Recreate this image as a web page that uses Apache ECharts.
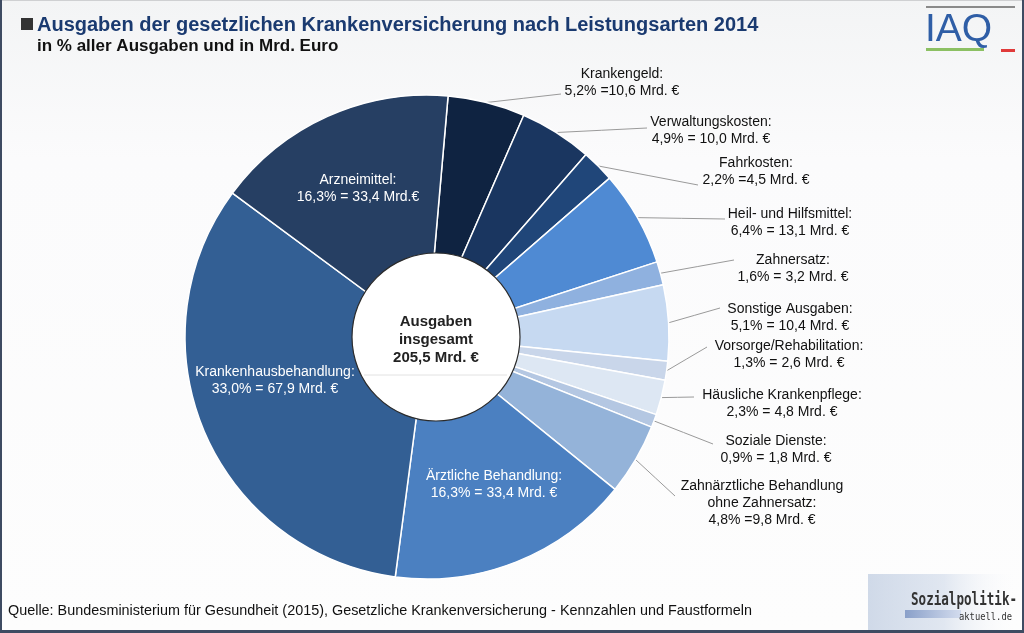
<!DOCTYPE html>
<html><head><meta charset="utf-8">
<script src="https://cdn.jsdelivr.net/npm/echarts@6/dist/echarts.min.js"></script>
<style>html,body{margin:0;padding:0;width:1024px;height:633px;overflow:hidden;background:#fff}#c{width:1024px;height:633px}</style>
</head><body><div id="c"></div>
<script>
// ---- data ----
const categories = ['Krankengeld', 'Verwaltungskosten', 'Fahrkosten', 'Heil- und Hilfsmittel', 'Zahnersatz',
  'Sonstige Ausgaben', 'Vorsorge/Rehabilitation', 'Häusliche Krankenpflege', 'Soziale Dienste',
  'Zahnärztliche Behandlung\nohne Zahnersatz', 'Ärztliche Behandlung', 'Krankenhausbehandlung', 'Arzneimittel'];
const valuesMrd = [10.6, 10.0, 4.5, 13.1, 3.2, 10.4, 2.6, 4.8, 1.8, 9.8, 33.4, 67.9, 33.4];
const percents = [5.2, 4.9, 2.2, 6.4, 1.6, 5.1, 1.3, 2.3, 0.9, 4.8, 16.3, 33.0, 16.3];
const labelFormats = ['{p}% ={v} Mrd. €', '{p}% = {v} Mrd. €', '{p}% ={v} Mrd. €', '{p}% = {v} Mrd. €',
  '{p}% = {v} Mrd. €', '{p}% = {v} Mrd. €', '{p}% = {v} Mrd. €', '{p}% = {v} Mrd. €', '{p}% = {v} Mrd. €',
  '{p}% ={v} Mrd. €', '{p}% = {v} Mrd. €', '{p}% = {v} Mrd. €', '{p}% = {v} Mrd.€'];
const insideLabels = [false, false, false, false, false, false, false, false, false, false, true, true, true];

// ---- styles / layout ----
const colors = ['#0f2341', '#1a3660', '#204679', '#4f8ad3', '#8fb1df', '#c6d9f1', '#c9d6ea', '#dde7f3',
  '#b4c7e2', '#94b3d9', '#4b80c1', '#335f94', '#263f63'];
// [textCenterX, textCenterY, lineEndX, lineEndY]
const labelBoxes = [[622, 83, 561, 94], [711, 131, 647, 128], [756, 172, 698, 185], [790, 223, 725, 219],
  [793, 269, 734, 260], [790, 318, 720, 308], [789, 355, 707, 347], [782, 404, 694, 397],
  [776, 450, 713, 444], [762, 503, 675, 496], [494, 485], [275, 381], [358, 189]];

const fmt = v => v.toFixed(1).replace('.', ',');
const total = valuesMrd.reduce((a, b) => a + b, 0);
const FONT = '"Liberation Sans", Arial, Helvetica, sans-serif';

const pieData = categories.map((name, i) => {
  const inside = insideLabels[i];
  return {
    name: name,
    value: valuesMrd[i],
    itemStyle: { color: colors[i] },
    label: inside ? { position: 'inside', color: '#fff', fontSize: 14, lineHeight: 17 }
                  : { position: 'outside', color: '#111', fontSize: 14, lineHeight: 17 },
    labelLine: { show: !inside }
  };
});

const chart = echarts.init(document.getElementById('c'), null, { renderer: 'canvas' });
chart.setOption({
  animation: false,
  textStyle: { fontFamily: FONT },
  graphic: [
    { type: 'rect', z: -100, shape: { x: 0, y: 0, width: 1024, height: 633 },
      style: { fill: new echarts.graphic.LinearGradient(0, 0, 0, 1, [{ offset: 0, color: '#f3f4f5' }, { offset: 0.25, color: '#fbfbfc' }, { offset: 1, color: '#fdfdfd' }]) } },
    { type: 'rect', z: 50, shape: { x: 0, y: 0, width: 1024, height: 1 }, style: { fill: '#cfd0d2' } },
    { type: 'rect', z: 50, shape: { x: 0, y: 0, width: 2, height: 633 }, style: { fill: '#3e4b62' } },
    { type: 'rect', z: 50, shape: { x: 1022, y: 0, width: 2, height: 633 }, style: { fill: '#3e4b62' } },
    { type: 'rect', z: 50, shape: { x: 0, y: 630, width: 1024, height: 3 }, style: { fill: '#3e4b62' } },
    // title
    { type: 'rect', z: 10, shape: { x: 21, y: 18, width: 12, height: 12 }, style: { fill: '#333' } },
    { type: 'text', z: 10, x: 37, y: 25, style: { text: 'Ausgaben der gesetzlichen Krankenversicherung nach Leistungsarten 2014',
      font: 'bold 20px ' + FONT, fill: '#1a3a70', textVerticalAlign: 'middle' } },
    { type: 'text', z: 10, x: 37, y: 46, style: { text: 'in % aller Ausgaben und in Mrd. Euro',
      font: 'bold 17px ' + FONT, fill: '#111', textVerticalAlign: 'middle' } },
    // IAQ logo
    { type: 'rect', z: 10, shape: { x: 926, y: 6, width: 89, height: 2 }, style: { fill: '#8a8a8a' } },
    { type: 'text', z: 10, x: 925, y: 30, style: { text: 'IAQ', font: '39px ' + FONT, fill: '#2f5ea6', textVerticalAlign: 'middle' } },
    { type: 'rect', z: 10, shape: { x: 926, y: 48, width: 58, height: 3 }, style: { fill: '#8cc063' } },
    { type: 'rect', z: 10, shape: { x: 1001, y: 49, width: 14, height: 3 }, style: { fill: '#e03a3a' } },
    // source
    { type: 'text', z: 10, x: 8, y: 611, style: { text: 'Quelle: Bundesministerium für Gesundheit (2015), Gesetzliche Krankenversicherung - Kennzahlen und Faustformeln',
      font: '14.4px ' + FONT, fill: '#111', textVerticalAlign: 'middle' } },
    // sozialpolitik-aktuell logo
    { type: 'rect', z: 10, shape: { x: 868, y: 574, width: 152, height: 56 },
      style: { fill: new echarts.graphic.LinearGradient(0, 0, 1, 0, [{ offset: 0, color: 'rgba(170,188,215,0.55)' }, { offset: 0.5, color: 'rgba(190,204,226,0.45)' }, { offset: 1, color: 'rgba(255,255,255,0)' }]) } },
    { type: 'rect', z: 11, shape: { x: 905, y: 610, width: 56, height: 8 },
      style: { fill: new echarts.graphic.LinearGradient(0, 0, 1, 0, [{ offset: 0, color: '#8aa0c9' }, { offset: 1, color: '#d3dcee' }]) } },
    { type: 'text', z: 12, x: 911, y: 601, scaleX: 0.74, style: { text: 'Sozialpolitik-', font: 'bold 17px "DejaVu Sans Mono", "Liberation Mono", monospace', fill: '#333', textVerticalAlign: 'middle' } },
    { type: 'text', z: 12, x: 959, y: 617, scaleX: 0.8, style: { text: 'aktuell.de', font: '11px "DejaVu Sans Mono", "Liberation Mono", monospace', fill: '#333', textVerticalAlign: 'middle' } },
    // faint line in centre circle
    { type: 'line', z: 20, shape: { x1: 364, y1: 375, x2: 507, y2: 375 }, style: { stroke: '#e2e2e2', lineWidth: 1 } }
  ],
  series: [
    {
      type: 'pie',
      z: 2,
      center: [427, 337],
      radius: [0, 242],
      startAngle: 85,
      clockwise: true,
      avoidLabelOverlap: false,
      silent: true,
      itemStyle: { borderColor: '#ffffff', borderWidth: 1.5 },
      label: {
        fontFamily: FONT,
        formatter: p => {
          const i = p.dataIndex;
          const line2 = labelFormats[i].replace('{p}', fmt(percents[i])).replace('{v}', fmt(valuesMrd[i]));
          return categories[i] + ':\n' + line2;
        },
        align: 'center'
      },
      labelLine: { smooth: false, length: 10, length2: 10, lineStyle: { color: '#9a9a9a', width: 1 } },
      labelLayout: function (params) {
        const b = labelBoxes[params.dataIndex];
        const out = { x: b[0], y: b[1], align: 'center', verticalAlign: 'middle' };
        if (b.length > 2 && params.labelLinePoints) {
          const p0 = params.labelLinePoints[0];
          out.labelLinePoints = [p0, [(p0[0] + b[2]) / 2, (p0[1] + b[3]) / 2], [b[2], b[3]]];
        }
        return out;
      },
      data: pieData
    },
    {
      type: 'pie',
      z: 4,
      center: [436, 337],
      radius: [0, 84],
      silent: true,
      data: [{ value: total, name: 'total' }],
      itemStyle: { color: '#ffffff', borderColor: '#2b2b2b', borderWidth: 1.2 },
      label: { position: 'center', offset: [0, 3], formatter: 'Ausgaben\ninsgesamt\n' + fmt(total) + ' Mrd. €',
        fontFamily: FONT, fontSize: 15, fontWeight: 'bold', color: '#222', lineHeight: 18 },
      labelLine: { show: false }
    }
  ]
});
</script>
</body></html>
